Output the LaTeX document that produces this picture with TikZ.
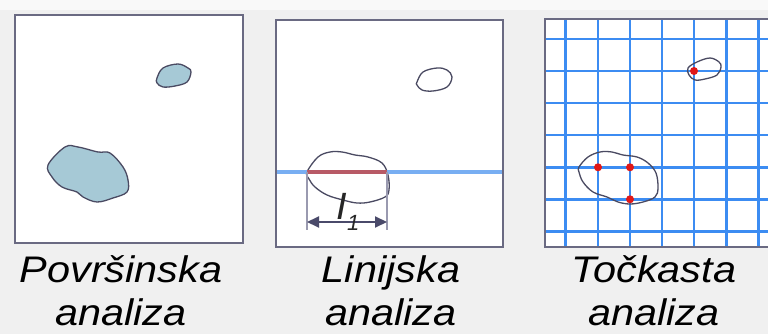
\documentclass[tikz,border=0pt]{standalone}
\usepackage{fontspec}
\setmainfont{Liberation Sans}
\usetikzlibrary{arrows.meta}
\definecolor{bgc}{HTML}{F0F0F0}
\definecolor{frame}{HTML}{6A6A82}
\definecolor{blobline}{HTML}{4A4A62}
\definecolor{blobfill}{HTML}{A6C9D6}
\definecolor{lineblue}{HTML}{78AEF2}
\definecolor{linered}{HTML}{B85A66}
\definecolor{gridblue}{HTML}{3C8CF2}
\definecolor{dotred}{HTML}{E01818}
\definecolor{dimgray}{HTML}{9A9AB0}
\definecolor{dimdark}{HTML}{4A4A6A}
\tikzset{
  panel/.style={draw=frame, line width=2pt, fill=white},
  blob/.style={draw=blobline, line width=1.3pt, smooth cycle, tension=0.6},
  caption/.style={font=\fontsize{37}{43}\selectfont\itshape, align=center, xscale=1.12, inner sep=0pt, anchor=north},
  gline/.style={draw=gridblue, line width=2.6pt},
  dot/.style={circle, fill=dotred, inner sep=0pt, minimum size=8pt},
}
\begin{document}
\begin{tikzpicture}[x=1pt,y=-1pt]
\fill[bgc] (0,0) rectangle (768,334);
\useasboundingbox (0,0) rectangle (768,334);
\fill[white!60!bgc] (0,0) rectangle (768,10);

% Panel 1
\draw[panel] (15,15) rectangle (243,243);
\draw[blob, fill=blobfill] plot coordinates {(157,78) (163,68) (178,64) (188,68) (191,72) (187,82) (175,86) (163,87) (157,83)};
\draw[blob, fill=blobfill] plot coordinates {(48,165) (65,147) (78,147) (98,152) (110,153) (123,167) (128,180) (127,192) (113,198) (97,202) (83,197) (77,192) (62,187) (52,177)};

% Panel 2
\draw[panel] (276,20) rectangle (503,247);
\draw[blob] plot coordinates {(417,82) (423,72) (437,68) (447,70) (452,77) (447,87) (433,91) (422,90) (417,85)};
\draw[blob] plot coordinates {(307,172) (318,157) (330,152) (342,152) (355,155) (368,157) (382,163) (388,175) (389,190) (385,197) (370,202) (357,203) (343,200) (327,195) (315,187) (309,179)};
\coordinate (lA) at (277,172);
\coordinate (lB) at (502,172);
\coordinate (rA) at (307,172);
\coordinate (rB) at (387,172);
\coordinate (dA) at (307,230);
\coordinate (dB) at (387,230);
\coordinate (aA) at (307,222);
\coordinate (aB) at (387,222);
\draw[lineblue, line width=3.6pt] (lA) -- (lB);
\draw[linered, line width=3.6pt] (rA) -- (rB);
\draw[dimgray, line width=2.4pt] (rA) -- (dA);
\draw[dimgray, line width=2.4pt] (rB) -- (dB);
\draw[dimdark, line width=2pt, {Triangle[length=12pt,width=11pt]}-{Triangle[length=12pt,width=11pt]}] (aA) -- (aB);
\node[font=\fontsize{38}{38}\selectfont\itshape, text=black!85, inner sep=0pt] (len) at (348,212) {I\raisebox{-0.3em}{\fontsize{22}{22}\selectfont 1}};

% Panel 3
\begin{scope}
\clip (545,19) rectangle (768,247);
\fill[white] (545,19) rectangle (780,247);
\foreach \k in {0,...,6} {
  \draw[gline] (565.7+32.1*\k,19) -- (565.7+32.1*\k,247);
  \draw[gline] (545,39+32.05*\k) -- (780,39+32.05*\k);
}
\end{scope}
\draw[frame, line width=2pt] (780,19) -- (545,19) -- (545,247) -- (780,247);
\draw[blob] plot coordinates {(688,68) (697,62) (710,58) (719,62) (721,67) (717,75) (705,79) (695,80) (689,75)};
\draw[blob] plot coordinates {(579,167) (588,157) (600,152) (612,152) (623,155) (637,157) (648,163) (656,173) (658,188) (655,197) (643,202) (630,204) (618,202) (607,197) (593,192) (583,182) (579,172)};
\node[dot] (p1) at (694,71) {};
\node[dot] (p2) at (598,167.3) {};
\node[dot] (p3) at (630,167.3) {};
\node[dot] (p4) at (630,199.3) {};

% Captions
\node[caption] (c1) at (121,255) {Površinska\\analiza};
\node[caption] (c2) at (391,255) {Linijska\\analiza};
\node[caption] (c3) at (654,255) {Točkasta\\analiza};
\end{tikzpicture}
\end{document}
